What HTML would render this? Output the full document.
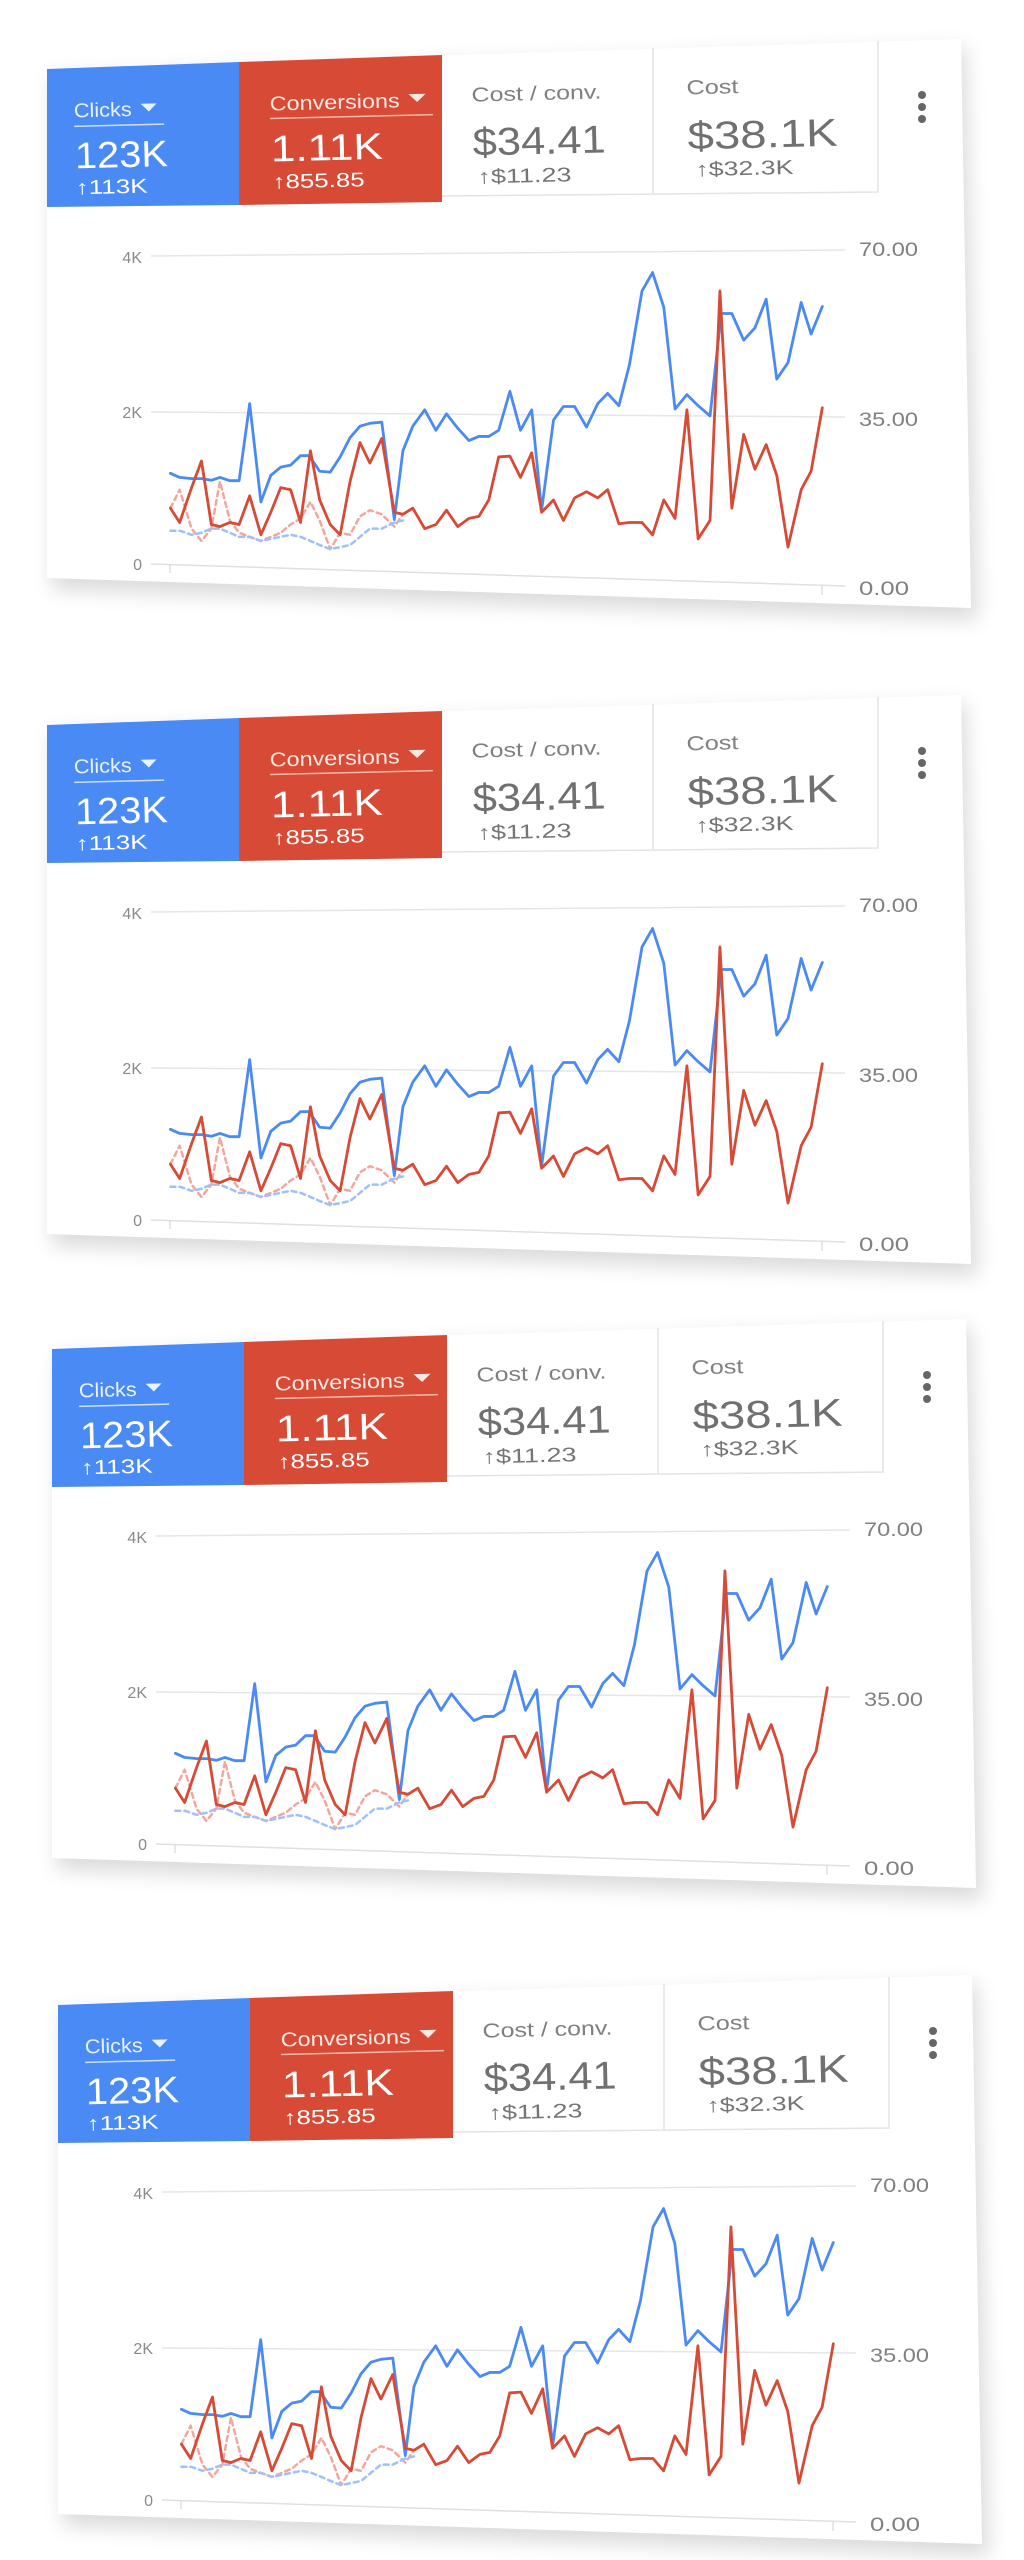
<!DOCTYPE html>
<html><head><meta charset="utf-8"><style>
html,body{margin:0;padding:0;background:#fff;}
svg{display:block;}
text{font-family:"Liberation Sans",sans-serif;}
</style></head><body>
<svg width="1024" height="2560" viewBox="0 0 1024 2560" xmlns="http://www.w3.org/2000/svg">
<defs>
<filter id="sh" x="-10%" y="-10%" width="120%" height="130%"><feGaussianBlur stdDeviation="10"/></filter>
<g id="card">
  <polygon points="52,76 966,47 978,620 52,590" fill="#000" opacity="0.14" filter="url(#sh)"/>
  <polygon points="47,68 961,39 971,608 47,578" fill="#fff"/>
  <polygon points="47,69 239,62 239,205 47,207" fill="#4a8af4"/>
  <polygon points="239,62 442,55 442,202 239,205" fill="#d64a36"/>
  <polyline points="442,196 878,192 878,41" fill="none" stroke="#e3e3e3" stroke-width="1.5"/>
  <line x1="653" y1="48" x2="653" y2="194" stroke="#e3e3e3" stroke-width="1.5"/>
  <g transform="rotate(-1.4 47 120)">
    <text x="74" y="118" font-size="20" fill="#eaf1ff" textLength="58" lengthAdjust="spacingAndGlyphs">Clicks</text>
    <polygon points="141,106 157,106 149,114" fill="#eaf1ff"/>
    <line x1="74" y1="127" x2="164" y2="127" stroke="#cfe0ff" stroke-width="1.5"/>
    <text x="74" y="169" font-size="37" fill="#fff" textLength="93" lengthAdjust="spacingAndGlyphs">123K</text>
    <text x="74" y="195" font-size="20" fill="#fff" textLength="72" lengthAdjust="spacingAndGlyphs">↑113K</text>

    <text x="270" y="116" font-size="20" fill="#fde8e4" textLength="130" lengthAdjust="spacingAndGlyphs">Conversions</text>
    <polygon points="409,103 426,103 417.5,111" fill="#fde8e4"/>
    <line x1="270" y1="124" x2="433" y2="124" stroke="#f3b8ae" stroke-width="1.5"/>
    <text x="270" y="167" font-size="37" fill="#fff" textLength="112" lengthAdjust="spacingAndGlyphs">1.11K</text>
    <text x="271" y="194" font-size="20" fill="#fff" textLength="92" lengthAdjust="spacingAndGlyphs">↑855.85</text>

    <text x="472" y="112" font-size="20" fill="#808080" textLength="130" lengthAdjust="spacingAndGlyphs">Cost / conv.</text>
    <text x="472" y="166" font-size="39" fill="#707070" textLength="133" lengthAdjust="spacingAndGlyphs">$34.41</text>
    <text x="476" y="194" font-size="20" fill="#757575" textLength="94" lengthAdjust="spacingAndGlyphs">↑$11.23</text>

    <text x="687" y="110" font-size="20" fill="#808080" textLength="52" lengthAdjust="spacingAndGlyphs">Cost</text>
    <text x="687" y="165" font-size="39" fill="#707070" textLength="150" lengthAdjust="spacingAndGlyphs">$38.1K</text>
    <text x="694" y="192" font-size="20" fill="#757575" textLength="98" lengthAdjust="spacingAndGlyphs">↑$32.3K</text>
  </g>
  <circle cx="922" cy="95" r="4" fill="#666"/>
  <circle cx="922" cy="107" r="4" fill="#666"/>
  <circle cx="922" cy="119" r="4" fill="#666"/>
  <line x1="151" y1="256" x2="845" y2="250" stroke="#e6e6e6" stroke-width="1.5"/>
  <line x1="151" y1="412" x2="845" y2="417" stroke="#e6e6e6" stroke-width="1.5"/>
  <line x1="151" y1="564" x2="845" y2="586" stroke="#e0e0e0" stroke-width="1.5"/>
  <line x1="170" y1="564" x2="170" y2="573" stroke="#d8d8d8" stroke-width="1.2"/>
  <line x1="822" y1="586" x2="822" y2="595" stroke="#d8d8d8" stroke-width="1.2"/>
  <text x="142" y="263" font-size="16" fill="#8a8a8a" text-anchor="end">4K</text>
  <text x="142" y="418" font-size="16" fill="#8a8a8a" text-anchor="end">2K</text>
  <text x="142" y="570" font-size="16" fill="#8a8a8a" text-anchor="end">0</text>
  <text x="859" y="256" font-size="19" fill="#808080" textLength="59" lengthAdjust="spacingAndGlyphs">70.00</text>
  <text x="859" y="426" font-size="19" fill="#808080" textLength="59" lengthAdjust="spacingAndGlyphs">35.00</text>
  <text x="859" y="595" font-size="19" fill="#808080" textLength="50" lengthAdjust="spacingAndGlyphs">0.00</text>
  <g transform="scale(0.6605,0.4098)" fill="none" stroke-linejoin="round" stroke-linecap="round">
    <polyline vector-effect="non-scaling-stroke" stroke="#f2a79e" stroke-width="2.5" stroke-dasharray="5 4" points="258,1240 272,1195 290,1290 305,1320 320,1290 333,1175 348,1270 362,1300 378,1310 395,1320 410,1310 425,1300 440,1280 455,1265 470,1225 484,1270 500,1340 515,1300 530,1305 545,1260 560,1245 578,1255 597,1285 610,1255"/>
    <polyline vector-effect="non-scaling-stroke" stroke="#9fc0f8" stroke-width="2.5" stroke-dasharray="5 4" points="258,1295 272,1295 290,1305 305,1300 320,1290 333,1290 348,1300 362,1310 378,1310 395,1320 410,1315 425,1310 440,1305 455,1310 470,1320 484,1330 500,1340 515,1335 530,1330 545,1310 560,1290 578,1290 597,1275 610,1270"/>
    <polyline vector-effect="non-scaling-stroke" stroke="#4a8af4" stroke-width="2.8" points="258,1155 272,1165 290,1168 305,1168 320,1172 333,1165 348,1173 362,1173 378,985 395,1225 410,1160 425,1140 440,1135 455,1112 468,1112 484,1150 500,1152 515,1115 530,1068 545,1040 560,1033 578,1030 597,1268 610,1100 625,1040 643,1000 660,1050 676,1010 693,1045 710,1075 725,1065 740,1065 755,1050 772,955 788,1050 805,1000 820,1245 838,1025 853,992 870,992 888,1042 905,985 920,960 937,990 953,890 972,710 988,665 1005,750 1022,998 1040,963 1057,990 1075,1015 1092,765 1108,765 1126,830 1143,800 1160,730 1176,925 1193,885 1213,738 1228,815 1245,748"/>
    <polyline vector-effect="non-scaling-stroke" stroke="#d64a36" stroke-width="2.8" points="258,1240 272,1275 290,1190 305,1125 320,1280 333,1285 348,1275 362,1280 378,1210 395,1305 410,1250 425,1190 440,1195 455,1275 470,1100 484,1220 500,1280 515,1305 530,1175 545,1080 560,1130 578,1070 597,1250 610,1255 625,1240 643,1290 660,1280 676,1245 693,1285 710,1265 725,1260 740,1220 755,1115 772,1113 788,1165 805,1105 820,1250 838,1220 853,1270 870,1215 888,1200 905,1215 920,1195 937,1278 953,1275 972,1275 988,1305 1005,1220 1022,1265 1040,1000 1057,1315 1075,1270 1090,710 1108,1240 1126,1060 1143,1145 1160,1085 1176,1160 1193,1335 1213,1195 1228,1150 1245,995"/>
  </g>
</g>
</defs>
<use href="#card" x="0" y="0"/>
<use href="#card" x="0" y="656"/>
<use href="#card" x="5" y="1280"/>
<use href="#card" x="11" y="1936"/>
</svg>
</body></html>
